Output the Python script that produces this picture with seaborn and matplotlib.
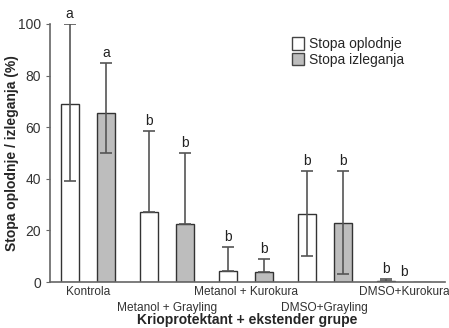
import pandas as pd
import matplotlib.pyplot as plt
import seaborn as sns
from matplotlib.patches import Patch

# Podaci očitani sa grafika
grupe = ["Kontrola", "Metanol + Grayling", "Metanol + Kurokura", "DMSO+Grayling", "DMSO+Kurokura"]
oplodnja = [69, 27, 4.3, 26.4, 0.5]
oplodnja_gore = [100, 58.5, 13.5, 43, 1]
oplodnja_dole = [39, 27, 4.3, 10, 0.5]
izleganje = [65.5, 22.5, 4, 23, 0]
izleganje_gore = [85, 50, 9, 43, 0]
izleganje_dole = [50, 22.5, 4, 3, 0]
slova_oplodnja = ["a", "b", "b", "b", "b"]
slova_izleganje = ["a", "b", "b", "b", "b"]

df = pd.DataFrame({
    "grupa": grupe * 2,
    "vrednost": oplodnja + izleganje,
    "serija": ["Stopa oplodnje"] * 5 + ["Stopa izleganja"] * 5,
})

sns.set_style("white")
plt.rcParams["font.family"] = ["Liberation Sans", "DejaVu Sans"]

fig = plt.figure(figsize=(4.49, 3.28), dpi=100)
ax = fig.add_axes([0.111, 0.140, 0.880, 0.787])

boje = {"Stopa oplodnje": "white", "Stopa izleganja": "#bdbdbd"}
sns.barplot(data=df, x="grupa", y="vrednost", hue="serija", palette=boje,
            width=0.92, gap=0.5, edgecolor="#333333", linewidth=1.0,
            errorbar=None, legend=False, ax=ax)

pomak = 0.23
for i in range(len(grupe)):
    for dx, v, g, d, s in [(-pomak, oplodnja[i], oplodnja_gore[i], oplodnja_dole[i], slova_oplodnja[i]),
                           (pomak, izleganje[i], izleganje_gore[i], izleganje_dole[i], slova_izleganje[i])]:
        x = i + dx
        if g > v or d < v:
            ax.errorbar(x, v, yerr=[[v - d], [g - v]], fmt="none", ecolor="#555555",
                        elinewidth=1.2, capsize=4, capthick=1.2)
        xs = x if i < 4 or dx < 0 else i + 0.0
        ax.text(xs, g + 1.2, s, ha="center", va="bottom", fontsize=10, color="#222222")

ax.set_xlim(-0.48, 4.52)
ax.set_ylim(0, 100)
ax.set_yticks([0, 20, 40, 60, 80, 100])
ax.tick_params(axis="y", labelsize=10, length=3, color="#666666", left=True, labelcolor="#333333")
ax.tick_params(axis="x", length=0, labelsize=8.6, labelcolor="#333333")
ax.set_xticks(range(len(grupe)))
ax.set_xticklabels(grupe)
for i, t in enumerate(ax.xaxis.get_major_ticks()):
    t.set_pad(3 if i % 2 == 0 else 14)
ax.set_xlabel("Krioprotektant + ekstender grupe", fontsize=10, fontweight="bold")
ax.set_ylabel("Stopa oplodnje / izleganja (%)", fontsize=10, fontweight="bold")
ax.xaxis.set_label_coords(0.5, -0.145, transform=ax.transAxes)
ax.xaxis.label.set_va("center")
ax.yaxis.set_label_coords(-0.078, 0.5, transform=ax.transAxes)

for strana in ["top", "right"]:
    ax.spines[strana].set_visible(False)
for strana in ["left", "bottom"]:
    ax.spines[strana].set_color("#666666")
    ax.spines[strana].set_linewidth(1.2)

ruke = [Patch(facecolor=boje[k], edgecolor="#444444", label=k) for k in boje]
ax.legend(handles=ruke, loc="upper left", bbox_to_anchor=(0.6, 0.97), frameon=False,
          fontsize=10, handlelength=0.8, handleheight=1.0, handletextpad=0.4,
          labelspacing=0.1, borderaxespad=0)

fig.savefig("out.png", dpi=100)
